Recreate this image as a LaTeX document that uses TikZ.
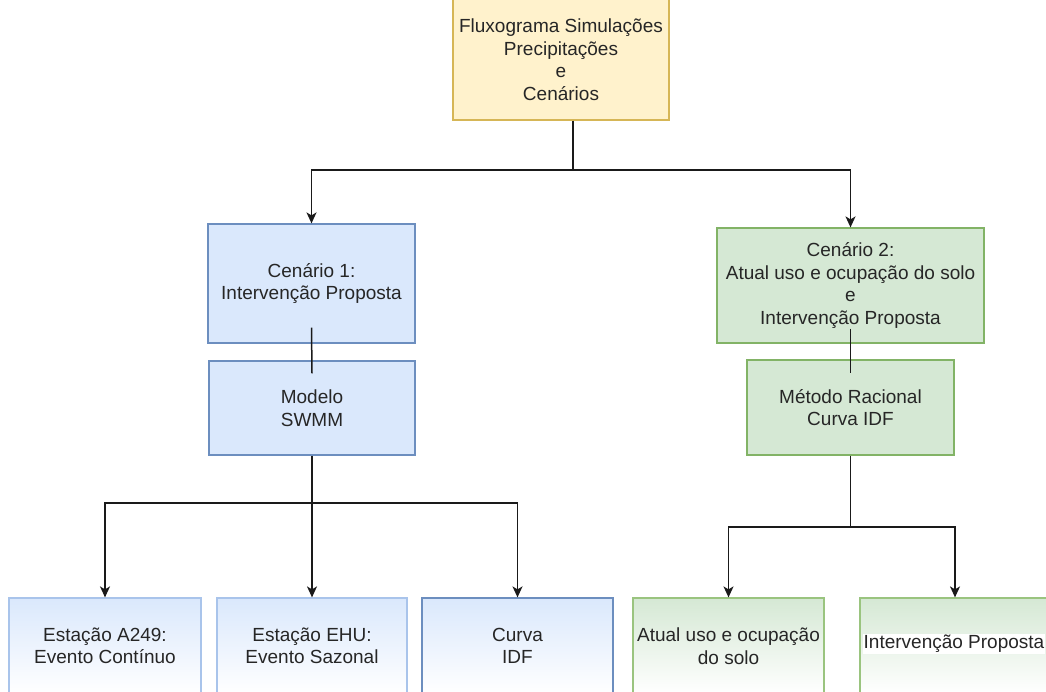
\documentclass[tikz,border=0pt]{standalone}
\usepackage{fontspec}
\setmainfont{Liberation Sans}
\usetikzlibrary{arrows.meta,calc}
\definecolor{yfill}{HTML}{FFF2CC}
\definecolor{ydraw}{HTML}{D6B656}
\definecolor{bfill}{HTML}{DAE8FC}
\definecolor{bdraw}{HTML}{6C8EBF}
\definecolor{bdrawl}{HTML}{A9C4EB}
\definecolor{gfill}{HTML}{D5E8D4}
\definecolor{gdraw}{HTML}{82B366}
\definecolor{gdrawl}{HTML}{9AC47F}
\definecolor{txt}{HTML}{262626}
\definecolor{edge}{HTML}{1A1A1A}
\begin{document}
\begin{tikzpicture}[x=1pt,y=-1pt,
  box/.style={rectangle,draw,line width=1.2pt,align=center,text=txt,
    font=\fontsize{19}{22.5}\selectfont,inner sep=0pt},
  ybox/.style={box,fill=yfill,draw=ydraw},
  bbox/.style={box,fill=bfill,draw=bdraw},
  gbox/.style={box,fill=gfill,draw=gdraw},
  bgrad/.style={box,top color=bfill,bottom color=white,draw=bdrawl},
  bgradd/.style={box,top color=bfill,bottom color=white,draw=bdraw},
  ggrad/.style={box,top color=gfill,bottom color=white,draw=gdrawl},
  conn/.style={draw=edge,line width=1.5pt},
  arr/.style={conn,-{Stealth[length=11pt,width=10pt,inset=3pt]}}
]
\useasboundingbox (0,0) rectangle (1046,692);
\node[ybox,minimum width=216pt,minimum height=121pt] (top) at (561,59.5)
  {Fluxograma Simulações\\Precipitações\\e\\Cenários};
\node[bbox,minimum width=207pt,minimum height=119pt] (c1) at (311.5,283.5)
  {Cenário 1:\\Intervenção Proposta};
\node[bbox,minimum width=206pt,minimum height=94pt] (mod) at (312,408)
  {Modelo\\SWMM};
\node[gbox,minimum width=267pt,minimum height=115pt] (c2) at (850.5,285.5)
  {Cenário 2:\\Atual uso e ocupação do solo\\e\\Intervenção Proposta};
\node[gbox,minimum width=207pt,minimum height=95pt] (met) at (850.5,407.5)
  {Método Racional\\Curva IDF};
\node[bgrad,minimum width=192pt,minimum height=96pt] (a249) at (105,646)
  {Estação A249:\\Evento Contínuo};
\node[bgrad,minimum width=190pt,minimum height=96pt] (ehu) at (312,646)
  {Estação EHU:\\Evento Sazonal};
\node[bgradd,minimum width=191pt,minimum height=96pt] (idf) at (517.5,646)
  {Curva\\IDF};
\node[ggrad,minimum width=191pt,minimum height=96pt] (atual) at (728.5,646)
  {Atual uso e ocupação\\do solo};
\node[ggrad,minimum width=190pt,minimum height=96pt] (interv) at (955,646) {};
\node[fill=white,inner sep=1pt,text=txt,font=\fontsize{19}{22.5}\selectfont] (intervt) at (954,644) {Intervenção Proposta};
% connectors
\coordinate (tout) at ([xshift=12pt]top.south);
\draw[conn] (tout) -- ++(0,49.5) coordinate (tj);
\draw[arr] (tj) -| (c1.north);
\draw[arr] (tj) -| (c2.north);
\draw[conn] ([yshift=16pt]c1.south) -- ([yshift=-13pt]mod.north);
\draw[conn] ([yshift=15pt]c2.south) -- ([yshift=-14pt]met.north);
\draw[conn] (mod.south) -- ++(0,47.5) coordinate (mj);
\draw[arr] (mj) -| (a249.north);
\draw[arr] (mj) -- (ehu.north);
\draw[arr] (mj) -| (idf.north);
\draw[conn] (met.south) -- ++(0,71.5) coordinate (gj);
\draw[arr] (gj) -| (atual.north);
\draw[arr] (gj) -| (interv.north);
\end{tikzpicture}
\end{document}
